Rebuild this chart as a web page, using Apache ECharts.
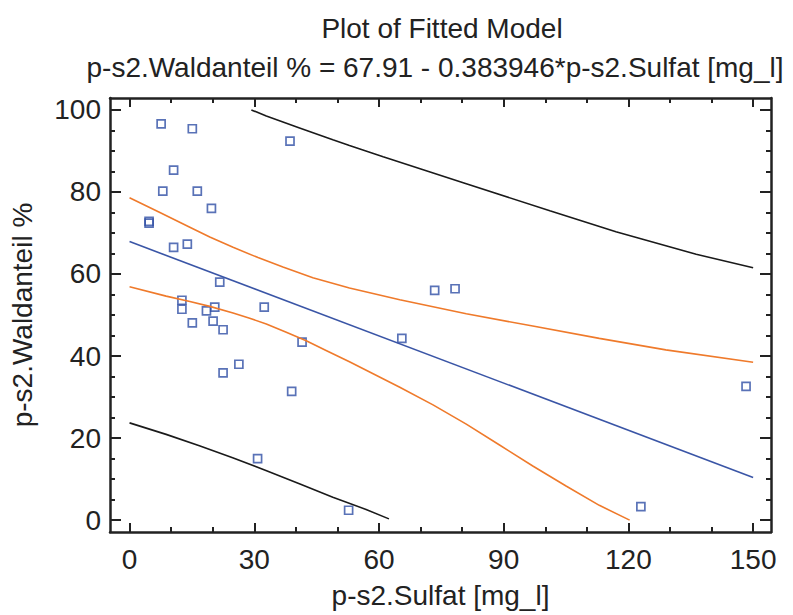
<!DOCTYPE html>
<html>
<head>
<meta charset="utf-8">
<script src="https://cdn.jsdelivr.net/npm/echarts@6/dist/echarts.min.js"></script>
<style>
html,body{margin:0;padding:0;background:#fff;}
#chart{width:793px;height:615px;}
</style>
</head>
<body>
<div id="chart"></div>
<script>
// ---- data ----
const xPoints = [7.6, 15.1, 38.6, 10.6, 8.0, 16.3, 19.7, 4.7, 4.7, 10.6, 13.9, 21.7, 12.6, 12.6, 20.5, 18.5, 32.4, 15.1, 20.1, 22.5, 41.5, 26.3, 22.5, 39.0, 30.8, 52.7, 73.4, 78.3, 65.5, 148.3, 123.0];
const yPoints = [96.6, 95.4, 92.4, 85.3, 80.2, 80.2, 76.0, 72.8, 72.4, 66.5, 67.3, 58.0, 53.6, 51.4, 51.9, 51.0, 51.9, 48.1, 48.5, 46.4, 43.4, 38.0, 35.9, 31.4, 15.0, 2.4, 56.0, 56.4, 44.3, 32.6, 3.3];

const fitX = [0, 150];
const fitY = [67.9, 10.4];

const confUpperX = [0, 7.3, 14.5, 19.3, 24.9, 30.9, 36.9, 44.1, 52.9, 65, 81, 97, 113, 129, 150];
const confUpperY = [78.6, 75.0, 71.4, 69.0, 66.5, 64.0, 61.7, 59.1, 56.6, 53.7, 50.3, 47.3, 44.3, 41.5, 38.5];

const confLowerX = [0, 8.8, 14.5, 19.3, 24.9, 28.9, 32.9, 37.7, 42.5, 47.4, 52.9, 65, 73, 81, 89, 97, 105, 113, 120.3];
const confLowerY = [56.9, 54.6, 53.3, 52.1, 50.5, 49.2, 47.8, 45.8, 43.7, 41.3, 38.6, 32.4, 28.1, 23.4, 18.3, 13.2, 8.3, 3.6, 0];

const predUpperX = [29.3, 32.9, 40.9, 48.9, 52.9, 61, 81, 101.1, 117, 136.3, 150];
const predUpperY = [100, 98.5, 95.6, 92.7, 91.3, 88.6, 82.0, 75.4, 70.3, 64.8, 61.5];

const predLowerX = [0, 8.8, 16.8, 24.8, 32.8, 41, 48.9, 56.9, 62.4];
const predLowerY = [23.7, 20.9, 18.1, 15.2, 12.1, 8.8, 5.6, 2.6, 0.3];

const xMajorTicks = [0, 30, 60, 90, 120, 150];
const xMinorTicks = [0, 10, 20, 30, 40, 50, 60, 70, 80, 90, 100, 110, 120, 130, 140, 150];
const yMajorTicks = [0, 20, 40, 60, 80, 100];
const yMinorTicks = [0, 5, 10, 15, 20, 25, 30, 35, 40, 45, 50, 55, 60, 65, 70, 75, 80, 85, 90, 95, 100];

const titleText = 'Plot of Fitted Model';
const subtitleText = 'p-s2.Waldanteil % = 67.91 - 0.383946*p-s2.Sulfat [mg_l]';
const xName = 'p-s2.Sulfat [mg_l]';
const yName = 'p-s2.Waldanteil %';

// ---- chart ----
const FONT = "'Liberation Sans', Arial, sans-serif";
const FS = 28;
const INK = '#222';
const X_MIN = -4.7, X_MAX = 154.3, Y_MIN = -2.9, Y_MAX = 102.9;

function zip(a, b) { return a.map((v, i) => [v, b[i]]); }

function axis(pos, min, max, major, opts) {
  return Object.assign({
    type: 'value', position: pos, min: min, max: max,
    splitLine: { show: false },
    axisLine: { show: opts.line, onZero: false, lineStyle: { color: INK, width: 2.5 } },
    axisTick: { show: true, inside: true, length: opts.len, customValues: major, lineStyle: { color: INK, width: 2 } },
    axisLabel: opts.label ? { show: true, customValues: major, fontSize: FS, fontFamily: FONT, color: INK, margin: opts.margin, hideOverlap: false } : { show: false }
  }, opts.extra || {});
}

const chart = echarts.init(document.getElementById('chart'), null, { renderer: 'svg' });
chart.setOption({
  animation: false,
  backgroundColor: '#fff',
  grid: { left: 110, right: 22, top: 98, bottom: 83, containLabel: false, outerBoundsMode: 'none' },
  graphic: [
    { type: 'text', x: 442, y: 28, style: { text: titleText, font: FS + "px " + FONT, fill: INK, align: 'center', verticalAlign: 'middle' } },
    { type: 'text', x: 435, y: 67, style: { text: subtitleText, font: FS + "px " + FONT, fill: INK, align: 'center', verticalAlign: 'middle' } }
  ],
  xAxis: [
    axis('bottom', X_MIN, X_MAX, xMajorTicks, { line: true, len: 9, label: true, margin: 13,
      extra: { name: xName, nameLocation: 'middle', nameGap: 49, nameTextStyle: { fontSize: FS, fontFamily: FONT, color: INK } } }),
    axis('bottom', X_MIN, X_MAX, xMinorTicks, { line: false, len: 5, label: false }),
    axis('top', X_MIN, X_MAX, xMajorTicks, { line: true, len: 9, label: false }),
    axis('top', X_MIN, X_MAX, xMinorTicks, { line: false, len: 5, label: false })
  ],
  yAxis: [
    axis('left', Y_MIN, Y_MAX, yMajorTicks, { line: true, len: 11, label: true, margin: 9,
      extra: { name: yName, nameLocation: 'middle', nameGap: 74, nameRotate: 90, nameTextStyle: { fontSize: FS, fontFamily: FONT, color: INK } } }),
    axis('left', Y_MIN, Y_MAX, yMinorTicks, { line: false, len: 5, label: false }),
    axis('right', Y_MIN, Y_MAX, yMajorTicks, { line: true, len: 11, label: false }),
    axis('right', Y_MIN, Y_MAX, yMinorTicks, { line: false, len: 5, label: false })
  ],
  series: [
    { type: 'line', xAxisIndex: 0, yAxisIndex: 0, data: zip(predUpperX, predUpperY), showSymbol: false, lineStyle: { color: '#1a1a1a', width: 1.6 }, silent: true },
    { type: 'line', xAxisIndex: 0, yAxisIndex: 0, data: zip(predLowerX, predLowerY), showSymbol: false, lineStyle: { color: '#1a1a1a', width: 1.6 }, silent: true },
    { type: 'line', xAxisIndex: 0, yAxisIndex: 0, data: zip(confUpperX, confUpperY), showSymbol: false, lineStyle: { color: '#ef7a2b', width: 1.6 }, silent: true },
    { type: 'line', xAxisIndex: 0, yAxisIndex: 0, data: zip(confLowerX, confLowerY), showSymbol: false, lineStyle: { color: '#ef7a2b', width: 1.6 }, silent: true },
    { type: 'line', xAxisIndex: 0, yAxisIndex: 0, data: zip(fitX, fitY), showSymbol: false, lineStyle: { color: '#3a55a6', width: 1.6 }, silent: true },
    { type: 'scatter', xAxisIndex: 0, yAxisIndex: 0, data: zip(xPoints, yPoints), symbol: 'rect', symbolSize: 8,
      itemStyle: { color: 'rgba(255,255,255,0)', borderColor: '#2f4fa5', borderWidth: 1.7 } }
  ]
});
</script>
</body>
</html>
